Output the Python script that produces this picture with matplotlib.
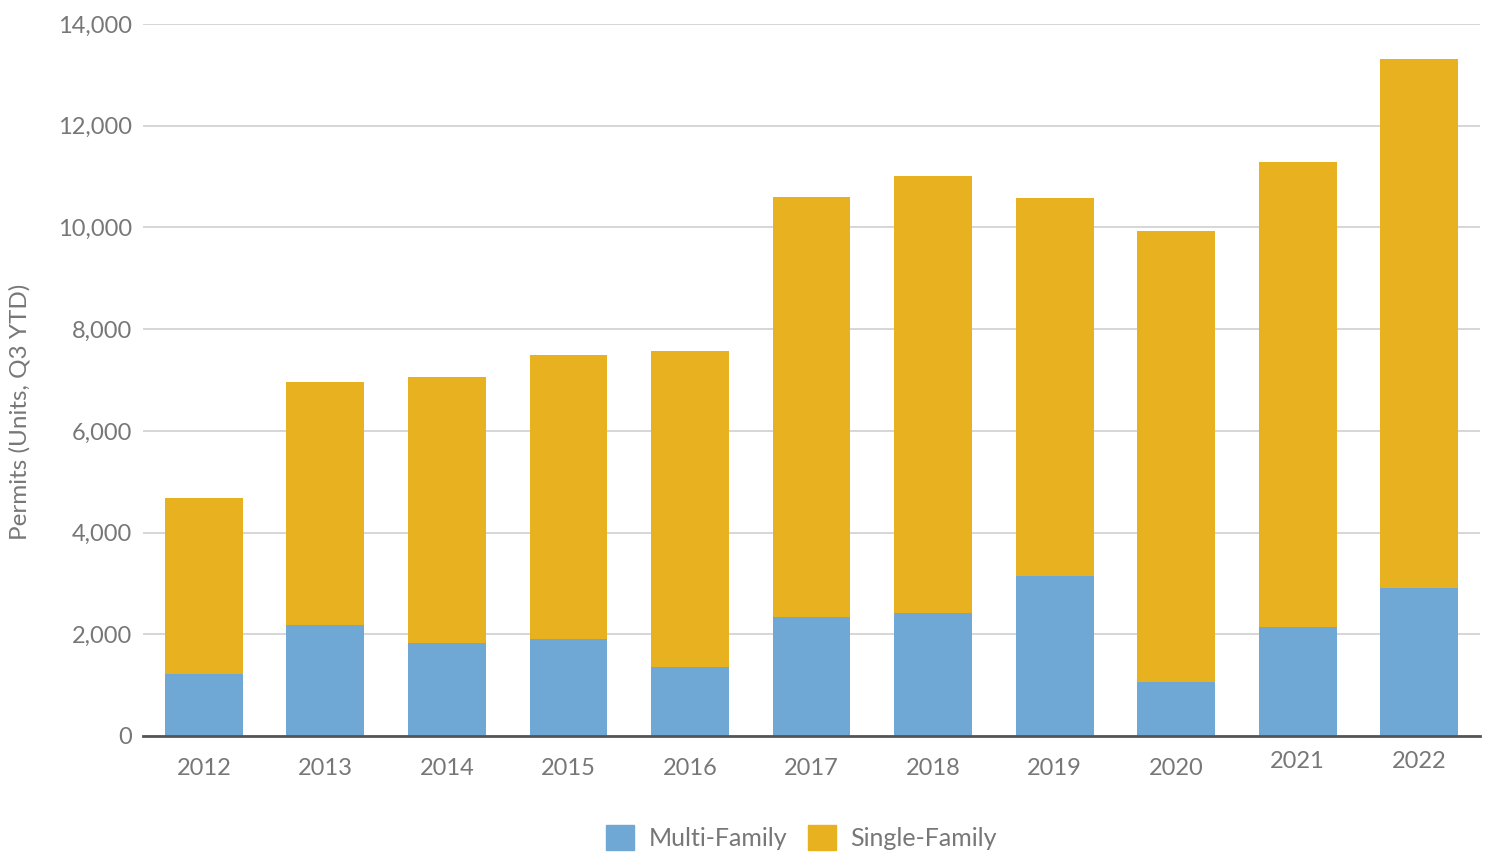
import matplotlib.pyplot as plt
from matplotlib.ticker import FuncFormatter
from matplotlib.patches import Patch

years = ["2012", "2013", "2014", "2015", "2016", "2017", "2018", "2019", "2020", "2021", "2022"]
multi_family = [1220, 2180, 1830, 1910, 1360, 2340, 2420, 3155, 1065, 2135, 2905]
totals = [4680, 6960, 7060, 7495, 7570, 10600, 11015, 10580, 9935, 11290, 13320]
single_family = [t - m for t, m in zip(totals, multi_family)]

blue = "#70a8d5"
gold = "#e7b11f"
grey = "#777777"

plt.rcParams["font.family"] = ["Lato", "DejaVu Sans"]
plt.rcParams["font.size"] = 17

fig = plt.figure(figsize=(14.87, 8.52), dpi=100)
ax = fig.add_axes([0.0962, 0.1362, 0.8991, 0.8356])

x = range(len(years))
ax.bar(x, multi_family, width=0.64, color=blue, label="Multi-Family", zorder=3)
ax.bar(x, single_family, bottom=multi_family, width=0.64, color=gold,
       label="Single-Family", zorder=3)

ax.set_xlim(-0.5, len(years) - 0.5)
ax.set_ylim(0, 14000)
ax.set_yticks(range(0, 14001, 2000))
ax.yaxis.set_major_formatter(FuncFormatter(lambda v, p: f"{int(v):,}"))
ax.set_xticks(list(x))
ax.set_xticklabels(years)

ax.grid(axis="y", color="#d0d0d0", linewidth=1.2, zorder=0)
for side in ["top", "right", "left"]:
    ax.spines[side].set_visible(False)
ax.spines["bottom"].set_color("#555555")
ax.spines["bottom"].set_linewidth(2)
ax.spines["bottom"].set_zorder(4)

ax.tick_params(axis="both", length=0, colors=grey, labelsize=17)
ax.tick_params(axis="y", pad=8)
ax.tick_params(axis="x", pad=16)
# the last two year labels sit a little higher in the original
for tick in ax.xaxis.get_major_ticks()[-2:]:
    tick.set_pad(11)

ax.set_ylabel("Permits (Units, Q3 YTD)", color=grey, fontsize=17.5)
ax.yaxis.set_label_coords(-0.0845, 0.455)

handles = [Patch(color=blue, label="Multi-Family"), Patch(color=gold, label="Single-Family")]
leg = fig.legend(handles=handles, loc="lower center", bbox_to_anchor=(0.539, -0.024),
                 ncol=2, frameon=False, fontsize=18, handlelength=1.12, handleheight=1.12,
                 handletextpad=0.6, columnspacing=0.8)
for t in leg.get_texts():
    t.set_color(grey)

fig.savefig("out.png", dpi=100)
